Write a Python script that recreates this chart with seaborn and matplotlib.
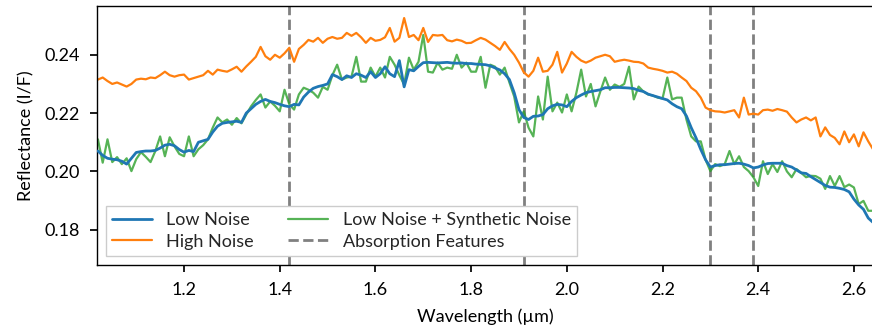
import numpy as np
import pandas as pd
import matplotlib
matplotlib.use("Agg")
import matplotlib.pyplot as plt
import seaborn as sns
from matplotlib.lines import Line2D

# Wavelength grid (µm), 0.01 step from 1.02 to 2.64
wavelength = np.round(np.arange(1.02, 2.6451, 0.01), 2)

low_noise = [
    0.2070, 0.2055, 0.2045, 0.2042, 0.2040, 0.2035, 0.2025, 0.2045,                    # 1.02-1.09
    0.2065, 0.2068, 0.2070, 0.2070, 0.2072, 0.2080, 0.2090, 0.2093, 0.2088, 0.2075,    # 1.10
    0.2066, 0.2072, 0.2068, 0.2100, 0.2105, 0.2110, 0.2135, 0.2155, 0.2165, 0.2168,    # 1.20
    0.2170, 0.2172, 0.2168, 0.2200, 0.2215, 0.2230, 0.2240, 0.2247, 0.2240, 0.2236,    # 1.30
    0.2230, 0.2225, 0.2222, 0.2230, 0.2228, 0.2255, 0.2272, 0.2285, 0.2291, 0.2295,    # 1.40
    0.2300, 0.2332, 0.2325, 0.2315, 0.2328, 0.2322, 0.2335, 0.2330, 0.2322, 0.2342,    # 1.50
    0.2322, 0.2335, 0.2359, 0.2335, 0.2325, 0.2380, 0.2290, 0.2349, 0.2345, 0.2360,    # 1.60
    0.2373, 0.2374, 0.2373, 0.2372, 0.2373, 0.2374, 0.2372, 0.2371, 0.2372, 0.2370,    # 1.70
    0.2370, 0.2368, 0.2367, 0.2366, 0.2362, 0.2355, 0.2348, 0.2335, 0.2315, 0.2270,    # 1.80
    0.2212, 0.2185, 0.2178, 0.2189, 0.2190, 0.2195, 0.2215, 0.2225, 0.2230, 0.2228,    # 1.90
    0.2222, 0.2240, 0.2253, 0.2262, 0.2270, 0.2274, 0.2277, 0.2280, 0.2287, 0.2287,    # 2.00
    0.2288, 0.2288, 0.2287, 0.2286, 0.2284, 0.2278, 0.2274, 0.2265, 0.2260, 0.2255,    # 2.10
    0.2250, 0.2245, 0.2232, 0.2222, 0.2215, 0.2190, 0.2150, 0.2115, 0.2075, 0.2040,    # 2.20
    0.2015, 0.2020, 0.2023, 0.2023, 0.2025, 0.2027, 0.2028, 0.2025, 0.2020, 0.2012,    # 2.30
    0.2015, 0.2022, 0.2027, 0.2028, 0.2028, 0.2028, 0.2020, 0.2015, 0.2005, 0.1995,    # 2.40
    0.1993, 0.1982, 0.1972, 0.1962, 0.1952, 0.1946, 0.1945, 0.1942, 0.1938, 0.1930,    # 2.50
    0.1905, 0.1885, 0.1870, 0.1840, 0.1825,                                            # 2.60-2.64
]

high_noise = [
    0.2315, 0.2322, 0.2310, 0.2300, 0.2305, 0.2298, 0.2291, 0.2300,
    0.2315, 0.2318, 0.2316, 0.2322, 0.2320, 0.2330, 0.2342, 0.2330, 0.2325, 0.2330,
    0.2332, 0.2315, 0.2320, 0.2325, 0.2330, 0.2345, 0.2332, 0.2349, 0.2345, 0.2342,
    0.2350, 0.2359, 0.2342, 0.2360, 0.2376, 0.2393, 0.2427, 0.2395, 0.2383, 0.2400,
    0.2390, 0.2405, 0.2424, 0.2376, 0.2420, 0.2434, 0.2451, 0.2445, 0.2458, 0.2441,
    0.2455, 0.2461, 0.2455, 0.2458, 0.2475, 0.2465, 0.2475, 0.2460, 0.2441, 0.2458,
    0.2448, 0.2451, 0.2460, 0.2492, 0.2445, 0.2458, 0.2526, 0.2461, 0.2468, 0.2450,
    0.2492, 0.2444, 0.2468, 0.2466, 0.2468, 0.2450, 0.2446, 0.2452, 0.2448, 0.2440,
    0.2441, 0.2450, 0.2458, 0.2452, 0.2441, 0.2430, 0.2417, 0.2444, 0.2420, 0.2400,
    0.2373, 0.2340, 0.2325, 0.2345, 0.2390, 0.2342, 0.2345, 0.2366, 0.2410, 0.2339,
    0.2370, 0.2410, 0.2393, 0.2380, 0.2373, 0.2380, 0.2390, 0.2395, 0.2400, 0.2395,
    0.2376, 0.2380, 0.2383, 0.2380, 0.2376, 0.2375, 0.2370, 0.2356, 0.2352, 0.2349,
    0.2345, 0.2339, 0.2342, 0.2335, 0.2322, 0.2310, 0.2287, 0.2275, 0.2253, 0.2219,
    0.2210, 0.2206, 0.2205, 0.2202, 0.2206, 0.2210, 0.2185, 0.2253, 0.2195, 0.2198,
    0.2195, 0.2210, 0.2212, 0.2208, 0.2214, 0.2210, 0.2205, 0.2185, 0.2168, 0.2178,
    0.2185, 0.2175, 0.2185, 0.2120, 0.2151, 0.2125, 0.2115, 0.2093, 0.2137, 0.2100,
    0.2127, 0.2086, 0.2134, 0.2103, 0.2076,
]

synthetic = [
    0.2110, 0.2030, 0.2110, 0.2032, 0.2049, 0.2025, 0.2045, 0.2001,
    0.2042, 0.2066, 0.2050, 0.2032, 0.2070, 0.2120, 0.2052, 0.2117, 0.2086, 0.2060,
    0.2052, 0.2120, 0.2052, 0.2076, 0.2090, 0.2110, 0.2150, 0.2185, 0.2168, 0.2178,
    0.2160, 0.2183, 0.2165, 0.2195, 0.2223, 0.2245, 0.2264, 0.2219, 0.2240, 0.2225,
    0.2206, 0.2280, 0.2230, 0.2212, 0.2264, 0.2287, 0.2280, 0.2270, 0.2253, 0.2290,
    0.2280, 0.2330, 0.2366, 0.2315, 0.2322, 0.2325, 0.2393, 0.2308, 0.2308, 0.2356,
    0.2325, 0.2356, 0.2322, 0.2393, 0.2366, 0.2330, 0.2298, 0.2390, 0.2349, 0.2376,
    0.2468, 0.2342, 0.2339, 0.2373, 0.2349, 0.2356, 0.2352, 0.2400, 0.2356, 0.2373,
    0.2342, 0.2342, 0.2393, 0.2287, 0.2366, 0.2359, 0.2332, 0.2356, 0.2305, 0.2257,
    0.2168, 0.2206, 0.2150, 0.2120, 0.2257, 0.2178, 0.2325, 0.2206, 0.2236, 0.2202,
    0.2264, 0.2206, 0.2270, 0.2349, 0.2257, 0.2300, 0.2223, 0.2274, 0.2322, 0.2280,
    0.2298, 0.2290, 0.2300, 0.2359, 0.2247, 0.2291, 0.2274, 0.2264, 0.2260, 0.2253,
    0.2250, 0.2322, 0.2247, 0.2253, 0.2253, 0.2178, 0.2120, 0.2103, 0.2103, 0.2040,
    0.2001, 0.2025, 0.2018, 0.2025, 0.2070, 0.2025, 0.2052, 0.2015, 0.2001, 0.1980,
    0.1950, 0.2035, 0.1991, 0.2025, 0.1998, 0.2035, 0.2000, 0.1980, 0.2008, 0.1995,
    0.1980, 0.1985, 0.1984, 0.1975, 0.1940, 0.1984, 0.1950, 0.1984, 0.1946, 0.1955,
    0.1945, 0.1888, 0.1899, 0.1865, 0.1865,
]

absorption_features = [1.42, 1.91, 2.30, 2.39]

series_labels = ["Low Noise", "High Noise", "Low Noise + Synthetic Noise", "Absorption Features"]

sns.set_theme(style="ticks")
plt.rcParams["font.family"] = ["Lato", "DejaVu Sans"]
plt.rcParams["font.size"] = 13

fig = plt.figure(figsize=(8.72, 3.29), dpi=100)
ax = fig.add_axes([0.1112, 0.1945, 0.890, 0.787])

df = pd.DataFrame({"wl": wavelength, "low": low_noise, "high": high_noise, "syn": synthetic})

sns.lineplot(data=df, x="wl", y="syn", ax=ax, color="#2ca02c", alpha=0.8, lw=1.6, zorder=2)
sns.lineplot(data=df, x="wl", y="low", ax=ax, color="#1f77b4", lw=2.0, zorder=3)
sns.lineplot(data=df, x="wl", y="high", ax=ax, color="#ff7f0e", lw=1.6, zorder=2)

for xv in absorption_features:
    ax.axvline(xv, color="gray", ls="--", lw=2, zorder=1)

ax.set_xlim(1.018, 2.64)
ax.set_ylim(0.1679, 0.2567)
ax.set_xticks([1.2, 1.4, 1.6, 1.8, 2.0, 2.2, 2.4, 2.6])
ax.set_yticks([0.18, 0.20, 0.22, 0.24])
ax.set_xticklabels(["1.2", "1.4", "1.6", "1.8", "2.0", "2.2", "2.4", "2.6"])
ax.set_yticklabels(["0.18", "0.20", "0.22", "0.24"])
ax.tick_params(labelsize=13, colors="black", length=5, pad=7.5)
ax.set_xlabel("Wavelength (µm)", fontsize=13, color="black", labelpad=7)
ax.set_ylabel("Reflectance (I/F)", fontsize=13, color="black", labelpad=7)
for s in ax.spines.values():
    s.set_color("black")
    s.set_linewidth(1.0)

handles = [
    Line2D([], [], color="#1f77b4", lw=2.0),
    Line2D([], [], color="#ff7f0e", lw=1.6),
    Line2D([], [], color="#2ca02c", alpha=0.8, lw=1.6),
    Line2D([], [], color="gray", ls="--", lw=2),
]
leg = ax.legend(handles, [series_labels[0], series_labels[1], series_labels[2], series_labels[3]],
                loc="lower left", ncol=2, fontsize=13, frameon=True, fancybox=False,
                handlelength=2.2, handletextpad=0.8, columnspacing=1.9,
                borderpad=0.35, labelspacing=0.3)
leg.get_frame().set_edgecolor("#cccccc")
leg.get_frame().set_alpha(1.0)

fig.savefig("out.png", dpi=100)
